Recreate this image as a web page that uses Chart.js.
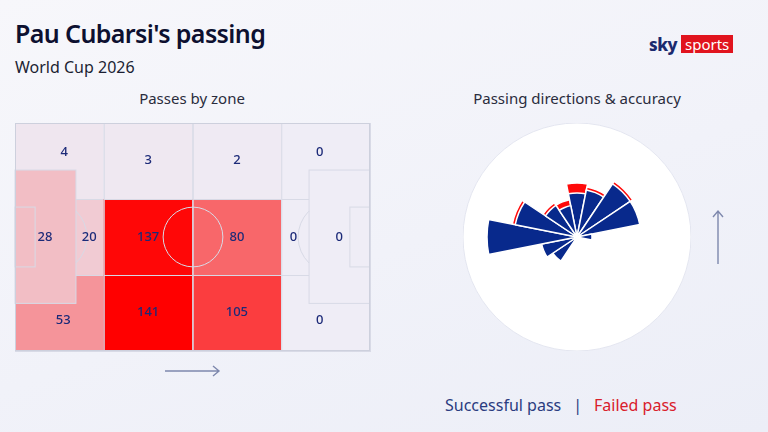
<!DOCTYPE html>
<html>
<head>
<meta charset="utf-8">
<script src="https://cdn.jsdelivr.net/npm/chart.js@4"></script>
<style>
    html, body {
        margin: 0;
        padding: 0;
    }
    body {
        width: 768px;
        height: 432px;
        position: relative;
        overflow: hidden;
        font-family: 'Noto Sans', sans-serif;
        background: linear-gradient(160deg, #f7f7fb 0%, #f1f2f9 55%, #eceef7 100%);
    }
    .txt {
        position: absolute;
        line-height: 1;
        white-space: nowrap;
    }
    #title { left: 15px; top: 21px; font-size: 25px; font-weight: 600; color: #0d1030; letter-spacing: -0.6px; }
    #subtitle { left: 15px; top: 59px; font-size: 16px; color: #1c1f33; }
    .section { top: 91px; font-size: 15px; color: #2a2c3d; text-align: center; }
    #zone-title { left: 92px; width: 200px; }
    #dir-title { left: 427px; width: 300px; }
    #logo { position: absolute; left: 649px; top: 35px; height: 18px; display: flex; align-items: center; }
    #logo .sky { font-size: 17px; font-weight: 800; color: #1b2a6e; letter-spacing: -0.5px; margin-right: 4px; line-height: 1; }
    #logo .sports { background: #e1141e; color: #fff; font-size: 15px; line-height: 18px; height: 18px; padding: 0 4px; }
    #legend { left: 445px; top: 397px; font-size: 16px; }
    #legend .ok { color: #2b3c80; }
    #legend .sep { color: #2b3c80; margin: 0 12px; }
    #legend .fail { color: #d9202b; }
    canvas, svg { position: absolute; }
    #pitchChart { left: 5px; top: 113px; }
    #roseChart { left: 463px; top: 123px; }
</style>
</head>
<body>
<div class="txt" id="title">Pau Cubarsi's passing</div>
<div class="txt" id="subtitle">World Cup 2026</div>
<div id="logo"><span class="sky">sky</span><span class="sports">sports</span></div>
<div class="txt section" id="zone-title">Passes by zone</div>
<div class="txt section" id="dir-title">Passing directions &amp; accuracy</div>

<canvas id="pitchChart" width="375" height="248"></canvas>
<canvas id="roseChart" width="228" height="228"></canvas>

<!-- direction-of-play arrows -->
<svg style="left:160px; top:362px" width="64" height="18">
    <path d="M5 9 H59 M53 4 L59 9 L53 14" stroke="#7e88ad" stroke-width="1.4" fill="none"/>
</svg>
<svg style="left:709px; top:206px" width="18" height="62">
    <path d="M9 58 V5 M4 11 L9 5 L14 11" stroke="#7e88ad" stroke-width="1.4" fill="none"/>
</svg>

<div class="txt" id="legend"><span class="ok">Successful pass</span><span class="sep">|</span><span class="fail">Failed pass</span></div>

<script>
// Passes by zone (pitch units: x 0-120 left to right, y 0-80 top to bottom)
const zoneCounts = [4, 3, 2, 0, 20, 137, 80, 0, 53, 141, 105, 0, 28, 0];
const zoneX0 = [0, 30, 60, 90, 0, 30, 60, 90, 0, 30, 60, 90, 0, 99.4];
const zoneX1 = [30, 60, 90, 120, 30, 60, 90, 120, 30, 60, 90, 120, 20.6, 120];
const zoneY0 = [0, 0, 0, 0, 26.67, 26.67, 26.67, 26.67, 53.33, 53.33, 53.33, 53.33, 16.5, 16.5];
const zoneY1 = [26.67, 26.67, 26.67, 26.67, 53.33, 53.33, 53.33, 53.33, 80, 80, 80, 80, 63.3, 63.3];
const labelX = [16.6, 45, 75, 103, 25.1, 45, 75, 94.1, 16.3, 45, 75, 103, 10.1, 109.6];
const labelY = [10.2, 13, 13, 10.2, 40, 40, 40, 40, 69.4, 66.4, 66.4, 69.4, 40, 40];

// Passing directions, clockwise from straight ahead (16 sectors)
const directions = ['N', 'NNE', 'NE', 'ENE', 'E', 'ESE', 'SE', 'SSE', 'S', 'SSW', 'SW', 'WSW', 'W', 'WNW', 'NW', 'NNW'];
const successful = [44, 48, 64, 64, 15, 0, 0, 0, 0, 0, 29, 36, 90, 63, 38, 32];
const failed = [10, 3, 3, 0, 0, 0, 0, 0, 0, 0, 0, 0, 0, 3, 3, 6];

// Colour helpers
const baseColor = [239, 237, 246];
const hotColor = [255, 0, 0];
const maxCount = Math.max(...zoneCounts);

function heatColor(count) {
    const t = count / maxCount;
    const c = baseColor.map((b, i) => Math.round(b + (hotColor[i] - b) * t));
    return `rgb(${c[0]}, ${c[1]}, ${c[2]})`;
}

const lineColor = '#d8dae6';

// Draws zone cells + pitch markings under the label points
const pitchPlugin = {
    id: 'pitchZones',
    beforeDatasetsDraw(chart) {
        const { ctx, scales: { x, y } } = chart;
        const px = v => x.getPixelForValue(v);
        const py = v => y.getPixelForValue(v);
        const unit = px(1) - px(0);

        ctx.save();
        // grid cells first, penalty boxes (last two) on top
        zoneCounts.forEach((count, i) => {
            const left = px(zoneX0[i]), right = px(zoneX1[i]);
            const top = py(zoneY0[i]), bottom = py(zoneY1[i]);
            ctx.fillStyle = heatColor(count);
            ctx.fillRect(left, top, right - left, bottom - top);
            if (i < 12) {
                ctx.strokeStyle = lineColor;
                ctx.lineWidth = 1;
                ctx.strokeRect(left + 0.5, top + 0.5, right - left, bottom - top);
            }
        });

        ctx.strokeStyle = lineColor;
        ctx.lineWidth = 1;

        // penalty boxes
        ctx.strokeRect(px(0), py(16.5), px(20.6) - px(0), py(63.3) - py(16.5));
        ctx.strokeRect(px(99.4), py(16.5), px(120) - px(99.4), py(63.3) - py(16.5));
        // six-yard boxes
        ctx.strokeRect(px(0), py(29.5), px(6.8) - px(0), py(50.5) - py(29.5));
        ctx.strokeRect(px(113.2), py(29.5), px(120) - px(113.2), py(50.5) - py(29.5));

        // penalty arcs
        const arcR = 12.3 * unit;
        const arcA = Math.acos(8.6 / 12.3);
        ctx.beginPath();
        ctx.arc(px(12), py(40), arcR, -arcA, arcA);
        ctx.stroke();
        ctx.beginPath();
        ctx.arc(px(108), py(40), arcR, Math.PI - arcA, Math.PI + arcA);
        ctx.stroke();

        // halfway line and centre circle
        ctx.beginPath();
        ctx.moveTo(px(60) + 0.5, py(0));
        ctx.lineTo(px(60) + 0.5, py(80));
        ctx.stroke();
        ctx.beginPath();
        ctx.arc(px(60) + 0.5, py(40), 10.1 * unit, 0, Math.PI * 2);
        ctx.stroke();

        // outer border
        ctx.strokeStyle = '#cdd0dd';
        ctx.strokeRect(px(0) + 0.5, py(0) + 0.5, px(120) - px(0) - 1, py(80) - py(0) - 1);
        ctx.restore();
    },
    afterDatasetsDraw(chart) {
        const { ctx } = chart;
        const meta = chart.getDatasetMeta(0);
        ctx.save();
        ctx.font = "500 13px 'Noto Sans', sans-serif";
        ctx.fillStyle = '#1c2a78';
        ctx.textAlign = 'center';
        ctx.textBaseline = 'middle';
        meta.data.forEach((pt, i) => {
            ctx.fillText(String(zoneCounts[i]), pt.x, pt.y);
        });
        ctx.restore();
    }
};

function drawPitch() {
    const ctx = document.getElementById('pitchChart').getContext('2d');
    return new Chart(ctx, {
        type: 'scatter',
        data: {
            datasets: [{
                label: 'Passes',
                data: zoneCounts.map((c, i) => ({ x: labelX[i], y: labelY[i] })),
                pointRadius: 0,
                pointHoverRadius: 0
            }]
        },
        options: {
            responsive: false,
            animation: false,
            layout: { padding: 10 },
            plugins: {
                legend: { display: false },
                tooltip: { enabled: false }
            },
            scales: {
                x: { type: 'linear', min: 0, max: 120, display: false },
                y: { type: 'linear', min: 0, max: 80, reverse: true, display: false }
            }
        },
        plugins: [pitchPlugin]
    });
}

function drawRose() {
    const ctx = document.getElementById('roseChart').getContext('2d');
    const totals = successful.map((s, i) => s + failed[i]);
    return new Chart(ctx, {
        type: 'polarArea',
        data: {
            labels: directions,
            datasets: [{
                label: 'Successful pass',
                data: successful,
                backgroundColor: '#08298c',
                borderColor: '#ffffff',
                borderWidth: 1.5
            }, {
                label: 'Failed pass',
                data: totals,
                backgroundColor: '#ff0a0a',
                borderColor: '#ffffff',
                borderWidth: 1.5
            }]
        },
        options: {
            responsive: false,
            animation: false,
            layout: { padding: 0 },
            plugins: {
                legend: { display: false },
                tooltip: { enabled: false }
            },
            scales: {
                r: {
                    min: 0,
                    max: 114,
                    startAngle: -11.25,
                    backgroundColor: '#ffffff',
                    ticks: { display: false, stepSize: 114 },
                    grid: { display: true, color: '#e4e6f0' },
                    angleLines: { display: false },
                    pointLabels: { display: false }
                }
            }
        }
    });
}

drawPitch();
drawRose();
</script>
</body>
</html>
